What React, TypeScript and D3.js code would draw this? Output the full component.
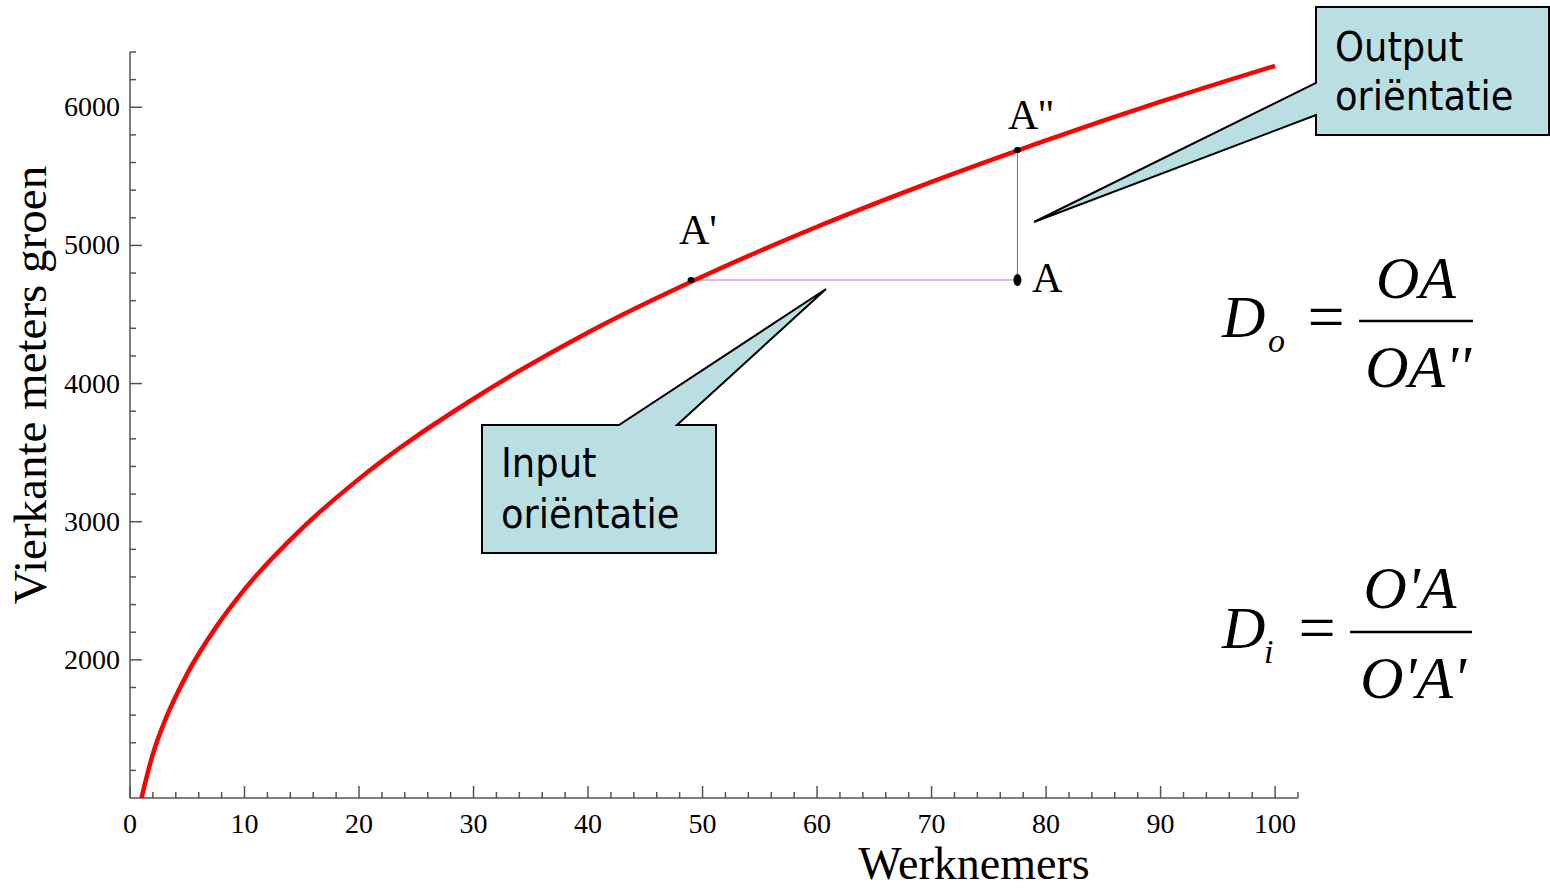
import React from "react";
import * as d3 from "d3";

const curveX = [1, 2, 3, 5, 7.5, 10, 15, 20, 30, 40, 50, 60, 70, 80, 90, 100];
const curveY = [1000, 1320, 1550, 1900, 2235, 2510, 2950, 3310, 3890, 4370, 4775, 5135, 5460, 5760, 6040, 6300];
const xMajorTicks = [0, 10, 20, 30, 40, 50, 60, 70, 80, 90, 100];
const yMajorTicks = [2000, 3000, 4000, 5000, 6000];
const pointA = { x: 77.5, y: 4750 };
const pointA1 = { x: 49, y: 4750 };
const pointA2 = { x: 77.5, y: 5690 };

const W = 1550;
const H = 890;

export default function App() {
  const x = d3.scaleLinear().domain([0, 102]).range([130, 1298]);
  const y = d3.scaleLinear().domain([1000, 6400]).range([798, 52]);
  const data = curveX.map((v, i) => [v, curveY[i]] as [number, number]);
  const line = d3
    .line<[number, number]>()
    .x((d) => x(d[0]))
    .y((d) => y(d[1]))
    .curve(d3.curveMonotoneX);

  const xMinor = d3.range(0, 103, 2).filter((v) => v % 10 !== 0);
  const yMinor = d3.range(1200, 6401, 200).filter((v) => v % 1000 !== 0);
  const axisColor = "#555";
  const serif = "'Liberation Serif', 'Times New Roman', serif";
  const sans = "'DejaVu Sans Condensed', 'DejaVu Sans', sans-serif";
  const calloutFill = "#badfe2";

  return (
    <div style={{ position: "absolute", left: 0, top: 0 }}>
      <svg width={W} height={H} viewBox={`0 0 ${W} ${H}`} style={{ display: "block", background: "#fff" }}>
        {/* axes */}
        <g stroke={axisColor} strokeWidth={1.5} fill="none">
          <line x1={x(0)} x2={x(0)} y1={y(1000)} y2={y(6400)} />
          <line x1={x(0)} x2={x(102)} y1={y(1000)} y2={y(1000)} />
          {xMajorTicks.map((t) => (
            <line key={"xm" + t} x1={x(t)} x2={x(t)} y1={y(1000)} y2={y(1000) - 12} />
          ))}
          {xMinor.map((t) => (
            <line key={"xn" + t} x1={x(t)} x2={x(t)} y1={y(1000)} y2={y(1000) - 6} />
          ))}
          {yMajorTicks.map((t) => (
            <line key={"ym" + t} x1={x(0)} x2={x(0) + 12} y1={y(t)} y2={y(t)} />
          ))}
          {yMinor.map((t) => (
            <line key={"yn" + t} x1={x(0)} x2={x(0) + 6} y1={y(t)} y2={y(t)} />
          ))}
        </g>
        <g fontFamily={serif} fontSize={28} fill="#000">
          {xMajorTicks.map((t) => (
            <text key={"xl" + t} x={x(t)} y={833} textAnchor="middle">
              {t}
            </text>
          ))}
          {yMajorTicks.map((t) => (
            <text key={"yl" + t} x={120} y={y(t) + 9} textAnchor="end">
              {t}
            </text>
          ))}
        </g>
        <text x={974} y={879} textAnchor="middle" fontFamily={serif} fontSize={46}>
          Werknemers
        </text>
        <text
          transform="translate(46,385) rotate(-90)"
          textAnchor="middle"
          fontFamily={serif}
          fontSize={47}
        >
          Vierkante meters groen
        </text>

        {/* guide lines */}
        <line x1={x(pointA1.x)} x2={x(pointA.x)} y1={y(pointA.y)} y2={y(pointA.y)} stroke="#cf9fd6" strokeWidth={1.5} />
        <line x1={x(pointA.x)} x2={x(pointA.x)} y1={y(pointA2.y)} y2={y(pointA.y)} stroke="#8a5a9a" strokeWidth={1} />

        {/* curve */}
        <path d={line(data) || ""} fill="none" stroke="#ff0000" strokeWidth={4.5} />

        {/* points */}
        <ellipse cx={x(pointA1.x)} cy={y(pointA1.y)} rx={3.5} ry={3} fill="#000" />
        <ellipse cx={x(pointA2.x)} cy={y(pointA2.y)} rx={3.5} ry={3} fill="#000" />
        <ellipse cx={x(pointA.x)} cy={y(pointA.y)} rx={4} ry={6} fill="#000" />
        <g fontFamily={serif} fontSize={42}>
          <text x={679} y={244}>A'</text>
          <text x={1008} y={129}>A''</text>
          <text x={1032} y={292}>A</text>
        </g>

        {/* output callout */}
        <path
          d="M1316,7 L1549,7 L1549,135 L1316,135 L1316,115 L1034,222 L1316,83 Z"
          fill={calloutFill}
          stroke="#000"
          strokeWidth={2}
          strokeLinejoin="miter"
        />
        <g fontFamily={sans} fontSize={41} fill="#000">
          <text x={1335} y={61}>Output</text>
          <text x={1335} y={110}>oriëntatie</text>
        </g>

        {/* input callout */}
        <path
          d="M482,425 L619,425 L826,289 L677,425 L716,425 L716,553 L482,553 Z"
          fill={calloutFill}
          stroke="#000"
          strokeWidth={2}
        />
        <g fontFamily={sans} fontSize={41} fill="#000">
          <text x={501} y={477}>Input</text>
          <text x={501} y={528}>oriëntatie</text>
        </g>

        {/* formulas */}
        <g fontFamily={serif} fill="#000" fontStyle="italic">
          <text x={1222} y={337} fontSize={60}>D</text>
          <text x={1268} y={352} fontSize={34}>o</text>
          <text x={1326} y={339} fontSize={66} fontStyle="normal" textAnchor="middle">=</text>
          <text x={1416} y={298} fontSize={60} textAnchor="middle">OA</text>
          <line x1={1359} x2={1473} y1={321} y2={321} stroke="#000" strokeWidth={2.5} />
          <text x={1418} y={387} fontSize={60} textAnchor="middle">OA''</text>

          <text x={1222} y={648} fontSize={60}>D</text>
          <text x={1264} y={663} fontSize={34}>i</text>
          <text x={1317} y={650} fontSize={66} fontStyle="normal" textAnchor="middle">=</text>
          <text x={1410} y={608} fontSize={60} textAnchor="middle">O'A</text>
          <line x1={1350} x2={1472} y1={632} y2={632} stroke="#000" strokeWidth={2.5} />
          <text x={1413} y={698} fontSize={60} textAnchor="middle">O'A'</text>
        </g>
      </svg>
    </div>
  );
}
